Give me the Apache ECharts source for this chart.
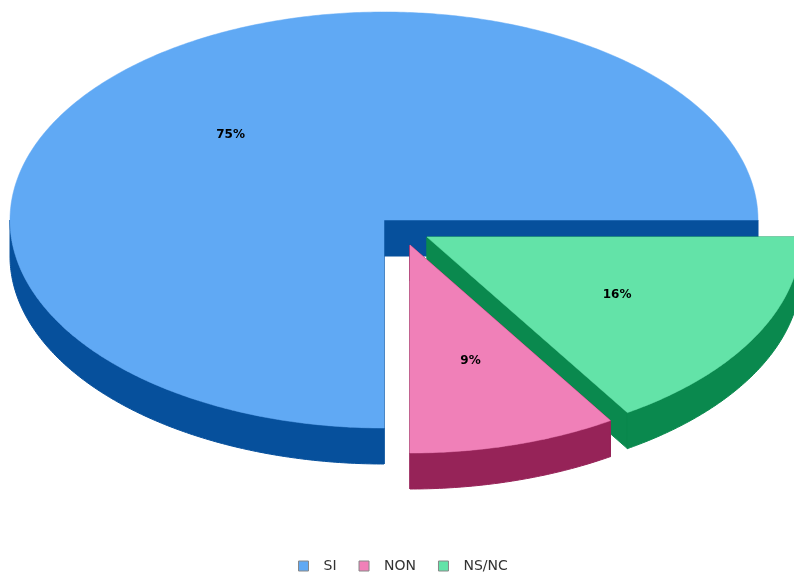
<!DOCTYPE html>
<html>
<head>
<meta charset="utf-8">
<script src="https://cdn.jsdelivr.net/npm/echarts@6/dist/echarts.min.js"></script>
<style>
html,body{margin:0;padding:0;background:#fff;}
#chart{width:794px;height:577px;}
</style>
</head>
<body>
<div id="chart"></div>
<script>
// donnees du camembert
var categories = ['SI', 'NON', 'NS/NC'];
var values = [75, 9, 16];

// style 3D
var topColors = ['#60a9f4', '#f080b8', '#63e3a8'];
var sideColors = ['#06509c', '#962358', '#0a894e'];
var explode = [[0, 0], [26, 25], [43, 17]];
var layer = [0, 2, 1];
var CX = 384, CY = 220, RX = 374, RY = 208, DEPTH = 36;

var total = values.reduce(function (a, b) { return a + b; }, 0);

function pt(cx, cy, th) {
    return [cx + RX * Math.cos(th), cy - RY * Math.sin(th)];
}
function arc(cx, cy, a0, a1) {
    var pts = [], n = Math.max(2, Math.ceil((a1 - a0) / 0.01));
    for (var k = 0; k <= n; k++) pts.push(pt(cx, cy, a0 + (a1 - a0) * k / n));
    return pts;
}
function down(p) { return [p[0], p[1] + DEPTH]; }

function makeRender(i) {
    return function (params, api) {
        var v = api.value(0);
        var before = 0;
        for (var j = 0; j < i; j++) before += values[j];
        var a0 = before / total * Math.PI * 2;
        var a1 = (before + v) / total * Math.PI * 2;
        var cx = CX + explode[i][0], cy = CY + explode[i][1];
        var c = [cx, cy];
        var base = layer[i] * 10;
        var children = [];
        // face radiale
        [a0, a1].forEach(function (a) {
            var p = pt(cx, cy, a);
            children.push({
                type: 'polygon', z2: base,
                shape: { points: [c, p, down(p), down(c)] },
                style: { fill: sideColors[i], stroke: sideColors[i], lineWidth: 1 }
            });
        });
        // bord exterieur visible
        var s0 = Math.max(a0, Math.PI), s1 = Math.min(a1, Math.PI * 2);
        if (s1 > s0) {
            var top = arc(cx, cy, s0, s1);
            var bot = top.map(down).reverse();
            children.push({
                type: 'polygon', z2: base,
                shape: { points: top.concat(bot) },
                style: { fill: sideColors[i], stroke: sideColors[i], lineWidth: 1 }
            });
        }
        // dessus
        children.push({
            type: 'polygon', z2: base + 1,
            shape: { points: [c].concat(arc(cx, cy, a0, a1)) },
            style: { fill: topColors[i], stroke: topColors[i], lineWidth: 0.5 }
        });
        // etiquette
        var mid = (a0 + a1) / 2;
        var lp = [cx + 0.58 * RX * Math.cos(mid), cy - 0.58 * RY * Math.sin(mid)];
        children.push({
            type: 'text', z2: base + 2,
            style: {
                x: lp[0], y: lp[1],
                text: Math.round(v / total * 100) + '%',
                fill: '#000',
                font: 'bold 12px "DejaVu Sans"',
                align: 'center', verticalAlign: 'middle'
            }
        });
        return { type: 'group', children: children };
    };
}

var series = categories.map(function (name, i) {
    return {
        name: name,
        type: 'custom',
        coordinateSystem: 'none',
        itemStyle: { color: topColors[i] },
        data: [[values[i]]],
        renderItem: makeRender(i),
        silent: true
    };
});

var myChart = echarts.init(document.getElementById('chart'));
myChart.setOption({
    animation: false,
    legend: {
        data: categories,
        top: 559,
        left: 298,
        padding: 0,
        icon: 'rect',
        itemWidth: 10,
        itemHeight: 10,
        itemGap: 22,
        itemStyle: { borderColor: '#888', borderWidth: 1 },
        textStyle: { fontFamily: 'DejaVu Sans', fontSize: 14, color: '#333', padding: [0, 0, 0, 10] }
    },
    series: series
});
</script>
</body>
</html>
